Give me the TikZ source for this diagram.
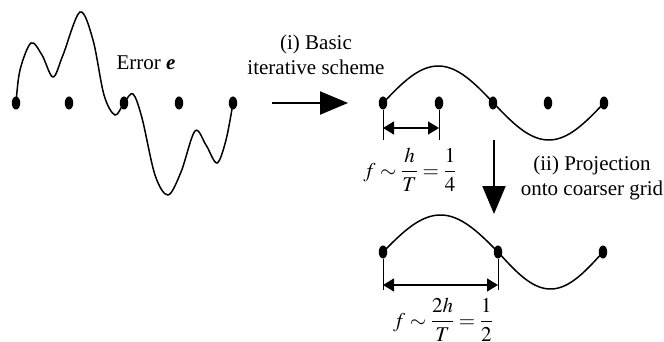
\documentclass[tikz,border=0pt]{standalone}
\usepackage{mathptmx}
\usepackage{amsmath}
\usepackage{fontspec}
\setmainfont{Liberation Serif}
\usetikzlibrary{arrows.meta,shapes.geometric}
\begin{document}
\begin{tikzpicture}[x=1pt,y=-1pt,
  font=\fontsize{21}{25}\selectfont,
  dot/.style={ellipse,fill=black,inner sep=0pt,minimum width=8.5pt,minimum height=13pt},
  curve/.style={line width=1.5pt},
  bigarrow/.style={line width=2.2pt,-{Triangle[length=28pt,width=23pt]}},
  dimarrow/.style={line width=1.3pt,{Triangle[length=11pt,width=13pt]}-{Triangle[length=11pt,width=13pt]}},
  tick/.style={line width=1pt},
  lbl/.style={inner sep=0pt,align=center}]
\useasboundingbox (0,0) rectangle (664,342);
% fine grid with error
\node[dot] (d1) at (16,103) {};
\node[dot] (d2) at (69,103) {};
\node[dot] (d3) at (124,103) {};
\node[dot] (d4) at (179,103) {};
\node[dot] (d5) at (233,103) {};
\draw[curve] plot[smooth,tension=0.55] coordinates {(16,103) (20,70) (31,43) (42,55) (53,77) (63,55) (80,12) (93,40) (104,95) (115,115) (124,103) (133,94) (142,118) (155,175) (168,195) (181,172) (195,131) (206,145) (217,163) (226,140) (233,103)};
\node[lbl] (err) at (146,63) {Error \textbf{\textit{e}}};
% arrow (i)
\coordinate (a1s) at (272,103);
\coordinate (a1e) at (348,103);
\draw[bigarrow] (a1s) -- (a1e);
\node[lbl] (lab1) at (316,55) {(i) Basic\\iterative scheme};
% smoothed on fine grid
\node[dot] (e1) at (383,103) {};
\node[dot] (e2) at (439,103) {};
\node[dot] (e3) at (493,103) {};
\node[dot] (e4) at (548,103) {};
\node[dot] (e5) at (604,103) {};
\draw[curve] plot[domain=0:360,samples=80] ({383+\x/360*221},{103-37*sin(\x)});
\coordinate (t1) at (383,140);
\coordinate (t2) at (439,140);
\draw[tick] (e1) -- (t1);
\draw[tick] (e2) -- (t2);
\coordinate (m1) at (383,128);
\coordinate (m2) at (439,128);
\draw[dimarrow] (m1) -- (m2);
\node[lbl] (f1) at (410,170) {$f\sim\dfrac{h}{T}=\dfrac{1}{4}$};
% arrow (ii)
\coordinate (a2s) at (494,140);
\coordinate (a2e) at (494,214);
\draw[bigarrow] (a2s) -- (a2e);
\node[lbl] (lab2) at (592,178) {(ii) Projection\\onto coarser grid};
% coarse grid
\node[dot] (g1) at (383,252) {};
\node[dot] (g2) at (498,252) {};
\node[dot] (g3) at (603,252) {};
\draw[curve] plot[domain=0:180,samples=40] ({383+\x/180*115},{252-37*sin(\x)})
  -- plot[domain=180:360,samples=40] ({498+(\x-180)/180*105},{252-37*sin(\x)});
\coordinate (u1) at (383,290);
\coordinate (u2) at (498,290);
\draw[tick] (g1) -- (u1);
\draw[tick] (g2) -- (u2);
\coordinate (n1) at (383,285);
\coordinate (n2) at (498,285);
\draw[dimarrow] (n1) -- (n2);
\node[lbl] (f2) at (443,320) {$f\sim\dfrac{2h}{T}=\dfrac{1}{2}$};
\end{tikzpicture}
\end{document}
